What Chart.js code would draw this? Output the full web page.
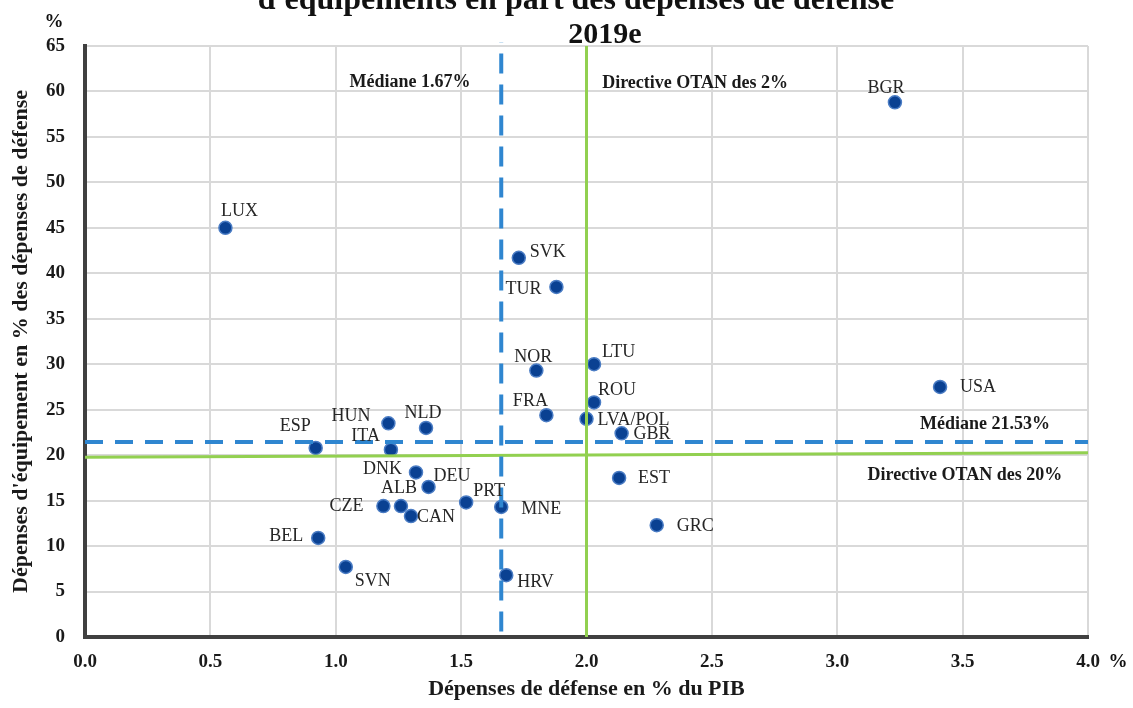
<!DOCTYPE html>
<html>
<head>
<meta charset="utf-8">
<script src="https://cdn.jsdelivr.net/npm/chart.js@4.4.1/dist/chart.umd.min.js"></script>
<style>
  html, body { margin: 0; padding: 0; background: #fff; }
</style>
</head>
<body>
<canvas id="myChart" width="1133" height="708"></canvas>
<script>
// data
const countries = ['LUX', 'BGR', 'USA', 'SVK', 'TUR', 'NOR', 'LTU', 'ROU', 'FRA', 'LVA/POL', 'GBR', 'EST', 'GRC',
  'MNE', 'HRV', 'PRT', 'CAN', 'ALB', 'CZE', 'DEU', 'DNK', 'BEL', 'SVN', 'ESP', 'ITA', 'HUN', 'NLD'];
const defence_gdp = [0.56, 3.23, 3.41, 1.73, 1.88, 1.80, 2.03, 2.03, 1.84, 2.00, 2.14, 2.13, 2.28,
  1.66, 1.68, 1.52, 1.30, 1.26, 1.19, 1.37, 1.32, 0.93, 1.04, 0.92, 1.22, 1.21, 1.36];
const equipment_share = [45.0, 58.8, 27.5, 41.7, 38.5, 29.3, 30.0, 25.8, 24.4, 24.0, 22.4, 17.5, 12.3,
  14.3, 6.8, 14.8, 13.3, 14.4, 14.4, 16.5, 18.1, 10.9, 7.7, 20.8, 20.6, 23.5, 23.0];

const x_tick_labels = ['0.0', '0.5', '1.0', '1.5', '2.0', '2.5', '3.0', '3.5', '4.0'];
const y_tick_labels = ['0', '5', '10', '15', '20', '25', '30', '35', '40', '45', '50', '55', '60', '65'];

const median_x = [1.66, 1.66];
const median_x_y = [0.6, 65.4];
const median_y_x = [0, 4];
const median_y = [21.45, 21.45];
const otan_x = [2.0, 2.0];
const otan_x_y = [0, 65];
const otan_y_x = [0, 4];
const otan_y = [19.77, 20.27];

// where each country label sits relative to its dot: [dx, dy, align]
const label_offsets = {
  LUX: [14, -17, 'center'], BGR: [-9, -14, 'center'], USA: [20, 0, 'left'], SVK: [11, -6, 'left'],
  TUR: [-15, 2, 'right'], NOR: [-3, -13, 'center'], LTU: [8, -12, 'left'], ROU: [4, -12, 'left'],
  FRA: [-16, -14, 'center'], 'LVA/POL': [11, 1, 'left'], GBR: [12, 1, 'left'], EST: [19, 0, 'left'],
  GRC: [20, 1, 'left'], MNE: [20, 2, 'left'], HRV: [11, 7, 'left'], PRT: [7, -11, 'left'],
  CAN: [6, 1, 'left'], ALB: [-2, -18, 'center'], CZE: [-20, 0, 'right'], DEU: [5, -11, 'left'],
  DNK: [-14, -3, 'right'], BEL: [-15, -2, 'right'], SVN: [9, 14, 'left'], ESP: [-5, -22, 'right'],
  ITA: [-11, -13, 'right'], HUN: [-18, -7, 'right'], NLD: [-3, -15, 'center']
};

// text notes in data units
const notes = [
  { text: 'Médiane 1.67%', x: 1.296, y: 61.0 },
  { text: 'Directive OTAN des 2%', x: 2.433, y: 60.9 },
  { text: 'Médiane 21.53%', x: 3.589, y: 23.4 },
  { text: 'Directive OTAN des 20%', x: 3.509, y: 17.8 }
];

const serif = '"Liberation Serif", "DejaVu Serif", serif';
const toPts = (xs, ys) => xs.map((x, i) => ({ x: x, y: ys[i] }));

const labelPlugin = {
  id: 'countryLabels',
  afterDatasetsDraw(chart) {
    const ctx = chart.ctx;
    const meta = chart.getDatasetMeta(4);
    ctx.save();
    ctx.font = '18px ' + serif;
    ctx.fillStyle = '#262626';
    ctx.textBaseline = 'middle';
    meta.data.forEach((pt, i) => {
      const o = label_offsets[countries[i]];
      ctx.textAlign = o[2];
      ctx.fillText(countries[i], pt.x + o[0], pt.y + o[1]);
    });
    // notes
    ctx.font = 'bold 18px ' + serif;
    ctx.fillStyle = '#1a1a1a';
    ctx.textAlign = 'center';
    notes.forEach(n => {
      ctx.fillText(n.text, chart.scales.x.getPixelForValue(n.x), chart.scales.y.getPixelForValue(n.y));
    });
    // title (first line cut at the top like the source)
    ctx.textBaseline = 'alphabetic';
    ctx.fillStyle = '#111';
    ctx.font = 'bold 32px ' + serif;
    ctx.fillText("d'équipements en part des dépenses de défense", 576, 9);
    ctx.font = 'bold 30px ' + serif;
    ctx.fillText('2019e', 605, 43);
    // unit signs
    ctx.font = 'bold 19px ' + serif;
    ctx.textBaseline = 'middle';
    ctx.fillText('%', 54, 22);
    ctx.fillText('%', 1118, 662);
    ctx.restore();
  }
};

new Chart(document.getElementById('myChart'), {
  type: 'scatter',
  data: {
    datasets: [{
      data: toPts(median_x, median_x_y),
      showLine: true, borderColor: '#2f86d0', borderWidth: 4, borderDash: [20, 11],
      pointRadius: 0, clip: false, order: 0
    }, {
      data: toPts(median_y_x, median_y),
      showLine: true, borderColor: '#2f86d0', borderWidth: 4, borderDash: [18, 12],
      pointRadius: 0, clip: false, order: 0
    }, {
      data: toPts(otan_x, otan_x_y),
      showLine: true, borderColor: '#92d050', borderWidth: 3,
      pointRadius: 0, order: 0
    }, {
      data: toPts(otan_y_x, otan_y),
      showLine: true, borderColor: '#92d050', borderWidth: 3,
      pointRadius: 0, order: 0
    }, {
      data: toPts(defence_gdp, equipment_share),
      backgroundColor: '#0a4192',
      borderColor: '#4a7cc4',
      borderWidth: 1.5,
      pointRadius: 6.5,
      order: 1
    }]
  },
  options: {
    responsive: false,
    animation: false,
    layout: { padding: { top: 46, right: 45, left: 0, bottom: 0 } },
    plugins: { legend: { display: false }, tooltip: { enabled: false } },
    scales: {
      x: {
        type: 'linear', min: 0, max: 4,
        afterFit: s => { s.height = 71; },
        ticks: {
          stepSize: 0.5, padding: 14, color: '#1a1a1a',
          font: { family: serif, size: 19, weight: 'bold' },
          callback: (v, i) => x_tick_labels[i]
        },
        grid: { color: '#d9d9d9', lineWidth: 2, drawTicks: false },
        border: { color: '#404040', width: 4 },
        title: {
          display: true, text: 'Dépenses de défense en % du PIB', color: '#1a1a1a',
          font: { family: serif, size: 22, weight: 'bold' },
          padding: { top: 0, bottom: 5 }
        }
      },
      y: {
        type: 'linear', min: 0, max: 65,
        afterFit: s => { s.width = 85; },
        ticks: {
          stepSize: 5, padding: 20, color: '#1a1a1a',
          font: { family: serif, size: 19, weight: 'bold' },
          callback: (v, i) => y_tick_labels[i]
        },
        grid: { color: '#d9d9d9', lineWidth: 2, drawTicks: false },
        border: { color: '#404040', width: 4 },
        title: {
          display: true, text: "Dépenses d'équipement en % des dépenses de défense", color: '#1a1a1a',
          font: { family: serif, size: 22, weight: 'bold' },
          padding: { top: 8, bottom: 0 }
        }
      }
    }
  },
  plugins: [labelPlugin]
});
</script>
</body>
</html>
